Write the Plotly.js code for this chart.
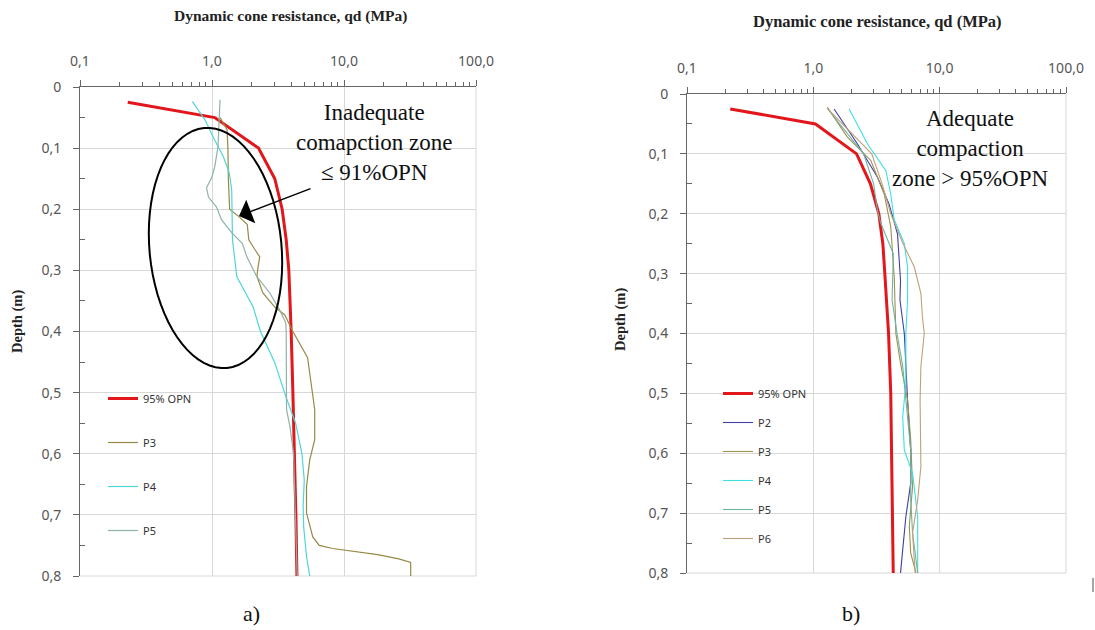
<!DOCTYPE html>
<html>
<head>
<meta charset="utf-8">
<script src="https://cdn.plot.ly/plotly-3.0.1.min.js"></script>
<style>html,body{margin:0;padding:0;background:#fff;}#chart{width:1095px;height:630px;}</style>
</head>
<body>
<div id="chart"></div>
<script>
// ---------- DATA ----------
// Panel a)
const aOpnDepth = [0.025, 0.05, 0.1, 0.15, 0.2, 0.25, 0.3, 0.35, 0.4, 0.5, 0.6, 0.7, 0.8];
const aOpnQd    = [0.23, 1.05, 2.25, 2.99, 3.4, 3.65, 3.82, 3.92, 3.98, 4.1, 4.22, 4.32, 4.4];

const aP3Depth = [0.05, 0.07, 0.1, 0.15, 0.2, 0.212, 0.225, 0.25, 0.265, 0.278, 0.295, 0.31, 0.337, 0.36, 0.373, 0.4, 0.443, 0.495, 0.528, 0.577, 0.61, 0.654, 0.697, 0.736, 0.75, 0.755, 0.76, 0.765, 0.772, 0.778, 0.8];
const aP3Qd    = [1.15, 1.3, 1.32, 1.33, 1.36, 1.6, 1.85, 1.9, 2.1, 2.3, 2.23, 2.19, 2.43, 2.99, 3.56, 4.1, 5.3, 5.7, 6.0, 6.0, 5.5, 5.2, 5.2, 5.8, 6.5, 8.2, 12, 18, 26, 32, 32];

const aP4Depth = [0.024, 0.054, 0.087, 0.114, 0.14, 0.168, 0.25, 0.31, 0.36, 0.4, 0.451, 0.506, 0.55, 0.6, 0.643, 0.686, 0.72, 0.768, 0.8];
const aP4Qd    = [0.71, 0.885, 1.05, 1.22, 1.35, 1.41, 1.43, 1.54, 2.05, 2.33, 2.99, 3.62, 4.3, 4.8, 5.0, 4.9, 4.95, 5.2, 5.5];

const aP5Depth = [0.021, 0.098, 0.13, 0.147, 0.165, 0.18, 0.196, 0.217, 0.239, 0.256, 0.277, 0.31, 0.337, 0.365, 0.386, 0.4, 0.528, 0.556, 0.6, 0.7, 0.8];
const aP5Qd    = [1.15, 1.11, 1.05, 1.0, 0.91, 0.94, 1.08, 1.18, 1.42, 1.7, 1.83, 2.18, 2.74, 3.26, 3.62, 3.65, 3.67, 3.9, 4.15, 4.3, 4.42];

// Panel b)
const bOpnDepth = [0.025, 0.05, 0.1, 0.15, 0.2, 0.25, 0.3, 0.4, 0.5, 0.6, 0.7, 0.8];
const bOpnQd    = [0.22, 1.04, 2.2, 2.83, 3.3, 3.55, 3.68, 3.94, 4.1, 4.16, 4.22, 4.29];

const bP2Depth = [0.025, 0.083, 0.139, 0.184, 0.234, 0.312, 0.344, 0.389, 0.4, 0.511, 0.595, 0.65, 0.706, 0.761, 0.8];
const bP2Qd    = [1.46, 2.23, 3.22, 3.98, 4.64, 4.9, 4.85, 5.2, 5.25, 5.57, 5.9, 5.9, 5.4, 5.1, 4.9];

const bP3Depth = [0.022, 0.072, 0.111, 0.167, 0.222, 0.306, 0.4, 0.45, 0.511, 0.578, 0.656, 0.722, 0.767, 0.8];
const bP3Qd    = [1.29, 1.86, 2.85, 3.64, 4.1, 4.37, 4.5, 4.9, 5.57, 5.9, 6.1, 5.75, 5.9, 6.5];

const bP4Depth = [0.025, 0.083, 0.128, 0.167, 0.21, 0.25, 0.289, 0.344, 0.4, 0.483, 0.539, 0.595, 0.633, 0.706, 0.8];
const bP4Qd    = [1.92, 2.68, 3.75, 4.1, 4.37, 5.25, 5.57, 5.57, 5.4, 5.4, 5.1, 5.25, 6.1, 6.7, 6.7];

const bP5Depth = [0.025, 0.1, 0.15, 0.195, 0.216, 0.267, 0.344, 0.4, 0.455, 0.539, 0.595, 0.678, 0.733, 0.8];
const bP5Qd    = [1.3, 2.5, 3.0, 3.22, 3.42, 4.3, 4.2, 4.6, 5.1, 5.57, 5.9, 5.9, 6.1, 6.7];

const bP6Depth = [0.025, 0.1, 0.15, 0.2, 0.249, 0.289, 0.333, 0.372, 0.4, 0.455, 0.511, 0.622, 0.678, 0.733, 0.8];
const bP6Qd    = [1.3, 2.9, 3.5, 4.1, 5.1, 6.3, 7.1, 7.3, 7.55, 7.1, 7.0, 7.1, 6.7, 6.1, 6.4];

// Axis tick labels
const xTickVals = [0.1, 1, 10, 100];
const xTickText = ['0,1', '1,0', '10,0', '100,0'];
const yTickVals = [0, 0.1, 0.2, 0.3, 0.4, 0.5, 0.6, 0.7, 0.8];
const yTickText = ['0', '0,1', '0,2', '0,3', '0,4', '0,5', '0,6', '0,7', '0,8'];
const xMinorVals = [0.2,0.3,0.4,0.5,0.6,0.7,0.8,0.9,2,3,4,5,6,7,8,9,20,30,40,50,60,70,80,90];

// ---------- LAYOUT HELPERS ----------
const W = 1095, H = 630;
const px = v => v / W;
const py = v => 1 - v / H;

function line(name, x, y, color, width, xa, ya, leg, grp) {
  return { type: 'scatter', mode: 'lines', name: name, x: x, y: y,
    line: { color: color, width: width }, xaxis: xa, yaxis: ya,
    legend: leg, legendgroup: grp };
}

const traces = [
  line('95% OPN', aOpnQd, aOpnDepth, '#e2171c', 3, 'x', 'y', 'legend', 'a0'),
  line('P3', aP3Qd, aP3Depth, '#958a45', 1.2, 'x', 'y', 'legend', 'a1'),
  line('P4', aP4Qd, aP4Depth, '#4fd6d9', 1.2, 'x', 'y', 'legend', 'a2'),
  line('P5', aP5Qd, aP5Depth, '#8fb2a8', 1.2, 'x', 'y', 'legend', 'a3'),
  line('95% OPN', bOpnQd, bOpnDepth, '#e2171c', 3, 'x2', 'y2', 'legend2', 'b0'),
  line('P2', bP2Qd, bP2Depth, '#3f3fa6', 1.1, 'x2', 'y2', 'legend2', 'b1'),
  line('P3', bP3Qd, bP3Depth, '#9c9150', 1.1, 'x2', 'y2', 'legend2', 'b2'),
  line('P4', bP4Qd, bP4Depth, '#3cdfe3', 1.1, 'x2', 'y2', 'legend2', 'b3'),
  line('P5', bP5Qd, bP5Depth, '#6fb3a0', 1.1, 'x2', 'y2', 'legend2', 'b4'),
  line('P6', bP6Qd, bP6Depth, '#c0a07a', 1.1, 'x2', 'y2', 'legend2', 'b5')
];

const gridColor = '#d8d8d8';
const tickFont = { family: 'Noto Sans, sans-serif', size: 14, color: '#555' };
function xAxis(domain, anchor) {
  return { type: 'log', range: [-1, 2], domain: domain, anchor: anchor, side: 'top',
    tickmode: 'array', tickvals: xTickVals, ticktext: xTickText,
    ticks: 'outside', ticklen: 6, tickcolor: '#666', ticklabelstandoff: 8,
    showline: true, linecolor: '#666', linewidth: 1,
    showgrid: true, gridcolor: gridColor, gridwidth: 1, zeroline: false,
    tickfont: tickFont, fixedrange: true,
    minor: { tickmode: 'array', tickvals: xMinorVals, ticks: 'outside', ticklen: 4, tickcolor: '#666', showgrid: false } };
}
function yAxis(domain, anchor) {
  return { range: [0.8, 0], domain: domain, anchor: anchor,
    tickmode: 'array', tickvals: yTickVals, ticktext: yTickText,
    ticks: 'outside', ticklen: 6, tickcolor: '#666', ticklabelstandoff: 9,
    showline: true, linecolor: '#666', linewidth: 1,
    showgrid: true, gridcolor: gridColor, gridwidth: 1, zeroline: false,
    tickfont: tickFont, fixedrange: true,
    minor: { tickmode: 'linear', tick0: 0.05, dtick: 0.1, ticks: 'inside', ticklen: 5, tickcolor: '#666', showgrid: false } };
}

// Ellipse (rotated) around the inadequate zone, panel a)
function ellipsePath(cx, cy, a, b, ux, uy) {
  const n = Math.hypot(ux, uy); ux /= n; uy /= n;
  const vx = uy, vy = -ux;
  let d = '';
  for (let i = 0; i <= 72; i++) {
    const t = 2 * Math.PI * i / 72;
    const X = cx + a * Math.cos(t) * ux + b * Math.sin(t) * vx;
    const Y = cy + a * Math.cos(t) * uy + b * Math.sin(t) * vy;
    d += (i === 0 ? 'M' : 'L') + px(X).toFixed(5) + ',' + py(Y).toFixed(5);
  }
  return d + 'Z';
}

function edgeLines(xd, yd) {
  return [
    { type: 'line', xref: xd, yref: yd, x0: 0, x1: 1, y0: 0, y1: 0, line: { color: gridColor, width: 1 }, layer: 'below' },
    { type: 'line', xref: xd, yref: yd, x0: 1, x1: 1, y0: 0, y1: 1, line: { color: gridColor, width: 1 }, layer: 'below' }
  ];
}

const serif = 'Liberation Serif, Times New Roman, serif';
function ann(x, y, text, size, extra) {
  return Object.assign({ xref: 'paper', yref: 'paper', x: px(x), y: py(y), text: text,
    showarrow: false, xanchor: 'center', yanchor: 'middle', align: 'center',
    font: { family: serif, size: size, color: '#111' } }, extra || {});
}
const bold = (size) => ({ font: { family: serif, size: size, color: '#222', weight: 'bold' } });

const layout = {
  width: W, height: H,
  margin: { l: 0, r: 0, t: 0, b: 0 },
  paper_bgcolor: '#fff', plot_bgcolor: '#fff',
  showlegend: true,
  xaxis: xAxis([px(80), px(476)], 'y'),
  yaxis: yAxis([py(576), py(87)], 'x'),
  xaxis2: xAxis([px(687), px(1066)], 'y2'),
  yaxis2: yAxis([py(573), py(94)], 'x2'),
  legend: { x: px(103), y: py(384), xanchor: 'left', yanchor: 'top', bgcolor: 'rgba(0,0,0,0)',
    font: { family: 'Noto Sans, sans-serif', size: 11, color: '#333' }, tracegroupgap: 25 },
  legend2: { x: px(718), y: py(379), xanchor: 'left', yanchor: 'top', bgcolor: 'rgba(0,0,0,0)',
    font: { family: 'Noto Sans, sans-serif', size: 11, color: '#333' }, tracegroupgap: 10 },
  shapes: [
    ...edgeLines('x domain', 'y domain'),
    ...edgeLines('x2 domain', 'y2 domain'),
    { type: 'path', xref: 'paper', yref: 'paper', path: ellipsePath(215.5, 248, 120.5, 66, 23, 240),
      line: { color: '#000', width: 2 }, fillcolor: 'rgba(0,0,0,0)' },
    { type: 'line', xref: 'paper', yref: 'paper', x0: px(1093), x1: px(1093), y0: py(578), y1: py(592),
      line: { color: '#888', width: 1.5 } }
  ],
  annotations: [
    ann(290, 16, 'Dynamic cone resistance, qd (MPa)', 15.5, bold(15.5)),
    ann(877, 22, 'Dynamic cone resistance, qd (MPa)', 16.5, bold(16.5)),
    ann(17, 322, 'Depth (m)', 14.5, Object.assign({ textangle: -90 }, bold(14.5))),
    ann(620, 320, 'Depth (m)', 14.5, Object.assign({ textangle: -90 }, bold(14.5))),
    ann(374, 143, 'Inadequate<br>comapction zone<br>≤ 91%OPN', 23),
    ann(970, 148.5, 'Adequate<br>compaction<br>zone &gt; 95%OPN', 23),
    { xref: 'paper', yref: 'paper', x: px(239), y: py(216), text: '', showarrow: true,
      ax: 73, ay: -28, arrowhead: 1, arrowsize: 2.8, arrowwidth: 1.5, arrowcolor: '#000' },
    ann(251, 613, 'a)', 22),
    ann(851, 613, 'b)', 22)
  ]
};

Plotly.newPlot('chart', traces, layout, { displayModeBar: false, staticPlot: true });
</script>
</body>
</html>
